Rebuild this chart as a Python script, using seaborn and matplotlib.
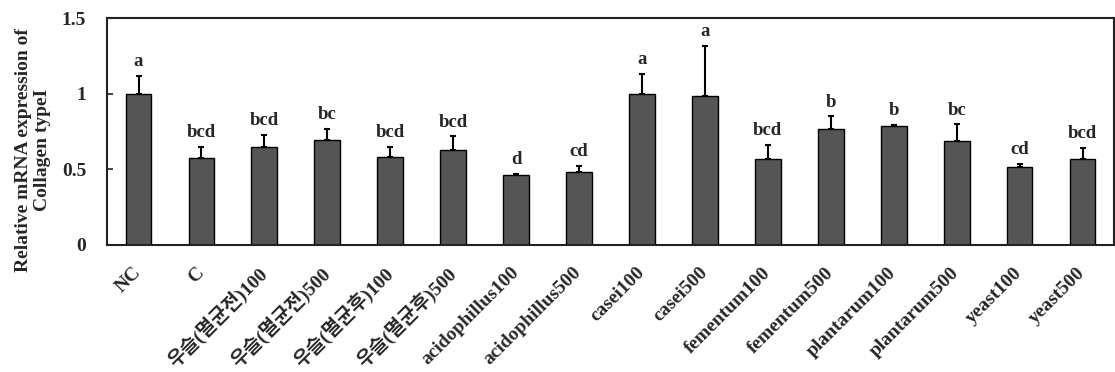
import matplotlib
matplotlib.use("Agg")
import matplotlib.pyplot as plt
import seaborn as sns
import pandas as pd

categories = ["NC", "C", "우슬(멸균전)100", "우슬(멸균전)500", "우슬(멸균후)100", "우슬(멸균후)500",
              "acidophillus100", "acidophillus500", "casei100", "casei500",
              "fementum100", "fementum500", "plantarum100", "plantarum500",
              "yeast100", "yeast500"]
means = [1.00, 0.575, 0.645, 0.695, 0.58, 0.63, 0.46, 0.48, 1.00, 0.985,
         0.567, 0.766, 0.786, 0.685, 0.514, 0.567]
errors = [0.12, 0.075, 0.085, 0.072, 0.07, 0.088, 0.01, 0.045, 0.133, 0.333,
          0.095, 0.085, 0.01, 0.112, 0.024, 0.075]
letters = ["a", "bcd", "bcd", "bc", "bcd", "bcd", "d", "cd", "a", "a",
           "bcd", "b", "b", "bc", "cd", "bcd"]
yticks = [0, 0.5, 1, 1.5]
ytick_labels = ["0", "0.5", "1", "1.5"]

sns.set_theme(style="white")
fams = ["Liberation Serif", "Noto Sans CJK KR", "DejaVu Sans"]
plt.rcParams["font.family"] = fams
plt.rcParams["font.weight"] = "bold"

df = pd.DataFrame({"group": categories, "value": means})

fig = plt.figure(figsize=(11.15, 3.72), dpi=100)
ax = fig.add_axes([0.096, 0.3414, 0.9031, 0.6102])

sns.barplot(data=df, x="group", y="value", order=categories, color="#555555",
            saturation=1, width=0.41, edgecolor="black", linewidth=1.0,
            errorbar=None, ax=ax)

xs = range(len(categories))
ax.errorbar(xs, means, yerr=[[0] * len(errors), errors], fmt="none",
            ecolor="black", elinewidth=1.5, capsize=2.5, capthick=1.5, zorder=3)

for x, m, e, lab in zip(xs, means, errors, letters):
    ax.annotate(lab, (x, m + e), xytext=(0, 4), textcoords="offset points",
                ha="center", va="bottom", fontsize=13.5, fontweight="bold",
                family=fams)

ax.set_xlim(-0.5, len(categories) - 0.5)
ax.set_ylim(0, 1.5)
ax.set_yticks(yticks)
ax.set_yticklabels(ytick_labels, fontsize=14, fontweight="bold")
ax.set_xticks(list(xs))
ax.set_xticklabels(categories, rotation=45, ha="right", va="center",
                   rotation_mode="anchor", fontsize=14, fontweight="bold")
ax.tick_params(axis="x", length=0, pad=18)
ax.tick_params(axis="y", direction="in", length=4, width=1.2, color="#222222",
               left=True, pad=15)
ax.set_xlabel("")
ax.set_ylabel("Relative mRNA expression of\nCollagen typeI", fontsize=14,
              fontweight="bold", linespacing=1.15)
ax.yaxis.set_label_coords(-0.056, 0.42)
for s in ax.spines.values():
    s.set_visible(True)
    s.set_color("#222222")
    s.set_linewidth(1.5)

fig.savefig("out.png", dpi=100)
